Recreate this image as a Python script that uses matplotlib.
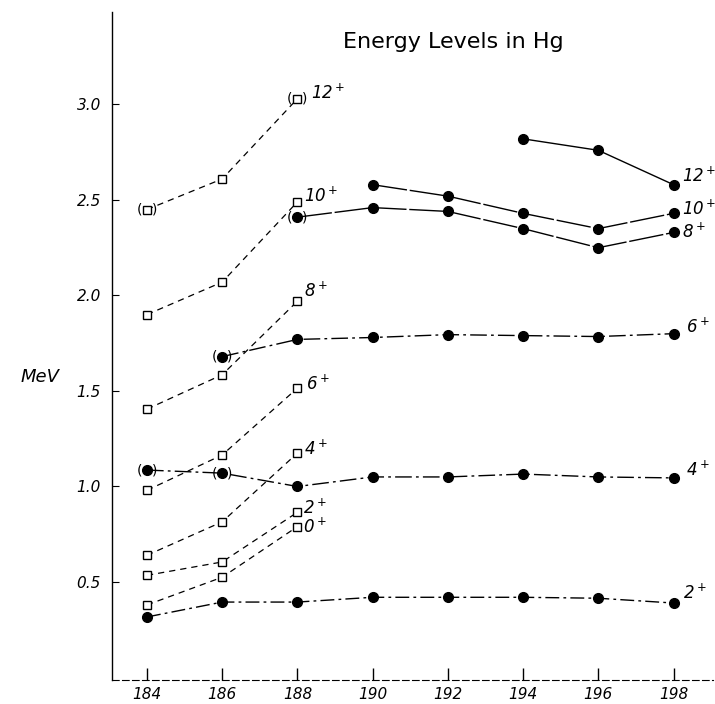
import matplotlib
matplotlib.use("Agg")
import matplotlib.pyplot as plt

# mass numbers (x) and level energies in MeV (y)
mass_sq = [184, 186, 188]
sq_levels = {
    '0': [0.38, 0.525, 0.79],
    '2': [0.535, 0.605, 0.865],
    '4': [0.64, 0.815, 1.175],
    '6': [0.98, 1.165, 1.515],
    '8': [1.405, 1.585, 1.97],
    '10': [1.90, 2.07, 2.49],
    '12': [2.45, 2.61, 3.03],
}

mass_2 = [184, 186, 188, 190, 192, 194, 196, 198]
e_2 = [0.317, 0.395, 0.395, 0.42, 0.42, 0.42, 0.415, 0.39]
mass_4 = [184, 186, 188, 190, 192, 194, 196, 198]
e_4 = [1.086, 1.07, 1.00, 1.05, 1.05, 1.065, 1.05, 1.045]
mass_6 = [186, 188, 190, 192, 194, 196, 198]
e_6 = [1.68, 1.77, 1.78, 1.795, 1.79, 1.785, 1.80]
mass_8 = [188, 190, 192, 194, 196, 198]
e_8 = [2.41, 2.46, 2.44, 2.35, 2.25, 2.33]
mass_10 = [190, 192, 194, 196, 198]
e_10 = [2.58, 2.52, 2.43, 2.35, 2.43]
mass_12 = [194, 196, 198]
e_12 = [2.82, 2.76, 2.58]

# tentative points drawn in parentheses
paren_pts = [(184, 2.45), (188, 3.03), (184, 1.086), (186, 1.07), (186, 1.68), (188, 2.41)]

x_ticks = [184, 186, 188, 190, 192, 194, 196, 198]
y_ticks = [0.5, 1.0, 1.5, 2.0, 2.5, 3.0]

fig = plt.figure(figsize=(7.15, 7.04), dpi=100)
ax = fig.add_axes([112 / 715, 1 - 680 / 704, (713 - 112) / 715, (680 - 12) / 704])
ax.set_xlim(183.07, 199.05)
ax.set_ylim(-0.013, 3.484)

# open squares, dashed
for spin, vals in sq_levels.items():
    ax.plot(mass_sq, vals, linestyle=(0, (5, 4)), color='black', lw=0.9,
            marker='s', markersize=6, markerfacecolor='white',
            markeredgecolor='black', markeredgewidth=1.0, zorder=3)

# filled circles
filled = [
    (mass_2, e_2, (0, (10, 3, 2, 3)), '2'),
    (mass_4, e_4, (0, (12, 3, 2, 3)), '4'),
    (mass_6, e_6, (0, (12, 3, 2, 3)), '6'),
    (mass_8, e_8, (0, (25, 2)), '8'),
    (mass_10, e_10, (0, (25, 2)), '10'),
    (mass_12, e_12, 'solid', '12'),
]
for xs, ys, ls, spin in filled:
    ax.plot(xs, ys, linestyle=ls, color='black', lw=1.0, marker='o',
            markersize=7, markerfacecolor='black', markeredgecolor='black', zorder=4)

for x, y in paren_pts:
    ax.annotate('(', (x, y), xytext=(-5.5, 0), textcoords='offset points',
                ha='center', va='center', fontsize=10, zorder=5)
    ax.annotate(')', (x, y), xytext=(5.5, 0), textcoords='offset points',
                ha='center', va='center', fontsize=10, zorder=5)

# spin labels, squares (at 188)
sq_offsets = {'0': (4, 0), '2': (4, 3), '4': (5, 3), '6': (6, 3),
              '8': (5, 7), '10': (5, 4), '12': (10, 4)}
for spin, vals in sq_levels.items():
    dx, dy = sq_offsets[spin]
    ax.annotate(spin + '$^+$', (mass_sq[-1], vals[-1]), xytext=(dx, dy),
                textcoords='offset points', ha='left', va='center',
                fontsize=12, style='italic')

# spin labels, filled circles (at 198)
fl_offsets = {'2': (7, 7), '4': (9, 6), '6': (9, 5), '8': (6, 0),
              '10': (6, 3), '12': (6, 6)}
for xs, ys, ls, spin in filled:
    dx, dy = fl_offsets[spin]
    ax.annotate(spin + '$^+$', (xs[-1], ys[-1]), xytext=(dx, dy),
                textcoords='offset points', ha='left', va='center',
                fontsize=12, style='italic')

ax.text(453 / 715, 1 - 42 / 704, 'Energy Levels in Hg', transform=fig.transFigure,
        ha='center', va='center', fontsize=16)
fig.text(40 / 715, 1 - 377 / 704, 'MeV', ha='center', va='center',
         fontsize=13, style='italic')

ax.spines['top'].set_visible(False)
ax.spines['right'].set_visible(False)
ax.spines['left'].set_linewidth(1.0)
ax.spines['bottom'].set_linewidth(0.8)
ax.spines['bottom'].set_linestyle((0, (6, 3)))

ax.set_xticks(x_ticks)
ax.set_xticklabels([str(v) for v in x_ticks], style='italic', fontsize=11)
ax.set_yticks(y_ticks)
ax.set_yticklabels(['%.1f' % v for v in y_ticks], style='italic', fontsize=11)
ax.tick_params(axis='x', direction='in', length=9, width=1.0, pad=5)
ax.tick_params(axis='y', direction='in', length=5, width=0.8, pad=8)

fig.savefig('out.png', dpi=100)
